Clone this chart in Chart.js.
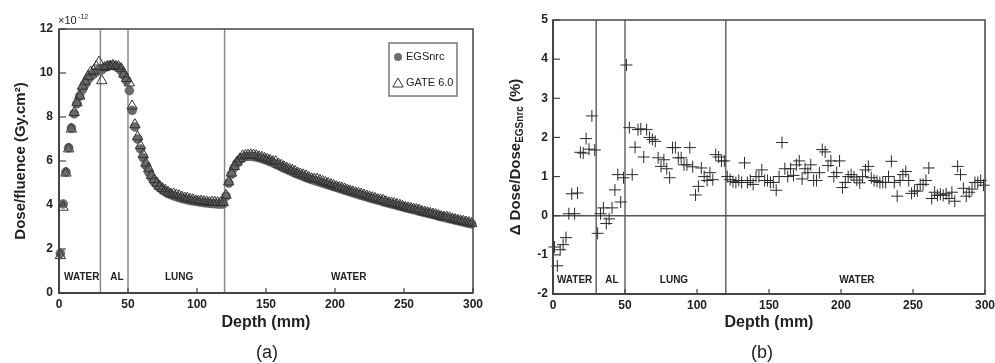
<!DOCTYPE html>
<html>
<head>
<meta charset="utf-8">
<script src="https://cdn.jsdelivr.net/npm/chart.js@4.4.1/dist/chart.umd.min.js"></script>
<style>
  body { margin: 0; background: #fff; width: 995px; height: 363px; position: relative; overflow: hidden; font-family: "Liberation Sans", Arial, sans-serif; }
  canvas { position: absolute; top: 0; }
  #chartA { left: 0; }
  #chartB { left: 495px; }
  .cap { position: absolute; top: 342px; font-size: 18px; line-height: 21px; color: #222; transform: translateX(-50%); }
</style>
</head>
<body>
<canvas id="chartA" width="495" height="363"></canvas>
<canvas id="chartB" width="500" height="363"></canvas>
<div class="cap" style="left:267px">(a)</div>
<div class="cap" style="left:762px">(b)</div>
<script>
// depth of each bin (mm)
const depth = [
  1, 3, 5, 7, 9, 11, 13, 15, 17, 19,
  21, 23, 25, 27, 29, 31, 33, 35, 37, 39,
  41, 43, 45, 47, 49, 51, 53, 55, 57, 59,
  61, 63, 65, 67, 69, 71, 73, 75, 77, 79,
  81, 83, 85, 87, 89, 91, 93, 95, 97, 99,
  101, 103, 105, 107, 109, 111, 113, 115, 117, 119,
  121, 123, 125, 127, 129, 131, 133, 135, 137, 139,
  141, 143, 145, 147, 149, 151, 153, 155, 157, 159,
  161, 163, 165, 167, 169, 171, 173, 175, 177, 179,
  181, 183, 185, 187, 189, 191, 193, 195, 197, 199,
  201, 203, 205, 207, 209, 211, 213, 215, 217, 219,
  221, 223, 225, 227, 229, 231, 233, 235, 237, 239,
  241, 243, 245, 247, 249, 251, 253, 255, 257, 259,
  261, 263, 265, 267, 269, 271, 273, 275, 277, 279,
  281, 283, 285, 287, 289, 291, 293, 295, 297, 299
];

// Dose/fluence (x1e-12 Gy.cm2)
const doseEgs = [
  1.8, 4.05, 5.5, 6.6, 7.5, 8.15, 8.6, 8.95, 9.25, 9.5,
  9.7, 9.85, 9.95, 10.05, 10.15, 10.15, 10.25, 10.3, 10.35, 10.35,
  10.3, 10.25, 10.1, 9.9, 9.65, 9.2, 8.3, 7.55, 7.0, 6.55,
  6.15, 5.8, 5.5, 5.25, 5.05, 4.9, 4.78, 4.68, 4.6, 4.53,
  4.47, 4.42, 4.38, 4.34, 4.3, 4.27, 4.24, 4.21, 4.19, 4.17,
  4.15, 4.13, 4.11, 4.1, 4.08, 4.07, 4.06, 4.05, 4.04, 4.05,
  4.4, 5.0, 5.4, 5.7, 5.9, 6.05, 6.15, 6.2, 6.22, 6.22,
  6.2, 6.18, 6.15, 6.11, 6.07, 6.02, 5.97, 5.92, 5.86, 5.8,
  5.74, 5.68, 5.62, 5.57, 5.51, 5.45, 5.4, 5.35, 5.3, 5.25,
  5.2, 5.16, 5.12, 5.08, 5.04, 5.0, 4.96, 4.92, 4.88, 4.84,
  4.8, 4.76, 4.72, 4.68, 4.64, 4.6, 4.56, 4.52, 4.48, 4.44,
  4.41, 4.37, 4.33, 4.29, 4.26, 4.22, 4.19, 4.15, 4.12, 4.08,
  4.05, 4.02, 3.98, 3.95, 3.92, 3.88, 3.85, 3.82, 3.79, 3.76,
  3.72, 3.69, 3.66, 3.63, 3.6, 3.57, 3.54, 3.5, 3.47, 3.44,
  3.41, 3.38, 3.35, 3.32, 3.29, 3.26, 3.23, 3.2, 3.17, 3.14
];

const doseGate = [
  1.7, 3.9, 5.45, 6.55, 7.45, 8.2, 8.65, 8.95, 9.4, 9.6,
  9.85, 10.05, 10.1, 10.3, 10.5, 9.65, 10.25, 10.3, 10.3, 10.35,
  10.3, 10.3, 10.2, 9.95, 9.75, 9.55, 8.5, 7.65, 7.1, 6.7,
  6.3, 5.9, 5.65, 5.35, 5.15, 5.0, 4.85, 4.75, 4.67, 4.58,
  4.5, 4.5, 4.45, 4.42, 4.36, 4.32, 4.31, 4.26, 4.24, 4.19,
  4.18, 4.18, 4.15, 4.14, 4.11, 4.13, 4.12, 4.11, 4.1, 4.11,
  4.44, 5.05, 5.45, 5.75, 5.95, 6.1, 6.23, 6.25, 6.27, 6.28,
  6.27, 6.24, 6.19, 6.17, 6.12, 6.08, 6.03, 5.97, 5.97, 5.86,
  5.81, 5.74, 5.68, 5.63, 5.58, 5.53, 5.45, 5.41, 5.37, 5.32,
  5.25, 5.2, 5.18, 5.17, 5.12, 5.07, 5.02, 4.98, 4.93, 4.9,
  4.83, 4.8, 4.77, 4.73, 4.68, 4.64, 4.6, 4.56, 4.53, 4.5,
  4.45, 4.41, 4.37, 4.33, 4.3, 4.25, 4.23, 4.21, 4.15, 4.1,
  4.09, 4.06, 4.03, 3.99, 3.94, 3.9, 3.87, 3.85, 3.82, 3.79,
  3.77, 3.71, 3.68, 3.65, 3.62, 3.59, 3.56, 3.52, 3.48, 3.45,
  3.45, 3.42, 3.37, 3.34, 3.31, 3.28, 3.26, 3.23, 3.2, 3.16
];

// Δ Dose / Dose_EGSnrc (%)
const deltaDose = [
  -0.8, -1.28, -0.87, -0.74, -0.56, 0.05, 0.56, 0.05, 0.58, 1.62,
  1.6, 1.97, 1.7, 2.55, 1.68, -0.45, 0.05, 0.2, -0.2, -0.08,
  0.2, 0.66, 1.05, 0.35, 0.97, 3.85, 2.25, 1.05, 1.75, 2.2,
  2.22, 1.5, 2.2, 2.0, 1.95, 1.9, 1.48, 1.26, 1.43, 1.2,
  0.97, 1.74, 1.74, 1.48, 1.48, 1.3, 1.3, 1.74, 1.25, 0.53,
  0.75, 1.22, 1.0, 0.9, 1.1, 0.92, 1.56, 1.5, 1.4, 1.4,
  1.0, 0.92, 0.87, 0.85, 0.9, 0.85, 1.35, 0.85, 0.9, 0.8,
  1.0, 1.0, 1.17, 0.9, 0.9, 0.85, 0.85, 0.65, 1.0, 1.87,
  1.2, 1.0, 1.2, 1.03, 1.3, 1.4, 0.94, 1.2, 1.1, 1.3,
  0.9, 0.9, 1.1, 1.69, 1.63, 1.28, 1.4, 1.0, 1.1, 1.4,
  0.72, 0.85, 1.0, 1.05, 0.99, 0.91, 0.84, 1.0, 1.17, 1.26,
  0.97, 0.9, 0.88, 0.85, 0.85, 0.85, 1.0, 1.39, 0.85, 0.5,
  0.9, 1.05, 1.13, 0.9, 0.57, 0.63, 0.63, 0.8, 0.8, 0.9,
  1.22, 0.44, 0.6, 0.52, 0.55, 0.52, 0.56, 0.44, 0.6, 0.37,
  1.26, 1.05, 0.7, 0.5, 0.6, 0.68, 0.85, 0.85, 0.9, 0.78
];

const boundaries = [30, 50, 120];
const regionNames = ['WATER', 'AL', 'LUNG', 'WATER'];
const regionPosA = [16.5, 42, 87, 210];
const regionPosB = [15, 41, 84, 211];
const legendNames = ['EGSnrc', 'GATE 6.0'];

const FONT = '"Liberation Sans", Arial, sans-serif';
const toXY = (ys) => depth.map((d, i) => ({ x: d, y: ys[i] }));

// lines between materials, material names, frame and inward ticks
const makeDecor = (cfg) => ({
  id: 'decor',
  beforeDatasetsDraw(chart) {
    const { ctx, chartArea: a, scales: { x, y } } = chart;
    ctx.save();
    ctx.strokeStyle = cfg.lineColor;
    ctx.lineWidth = 1.5;
    boundaries.forEach(b => {
      const px = x.getPixelForValue(b);
      ctx.beginPath(); ctx.moveTo(px, a.top); ctx.lineTo(px, a.bottom); ctx.stroke();
    });
    if (cfg.zeroLine) {
      const py = y.getPixelForValue(0);
      ctx.strokeStyle = '#555';
      ctx.beginPath(); ctx.moveTo(a.left, py); ctx.lineTo(a.right, py); ctx.stroke();
    }
    ctx.fillStyle = '#222';
    ctx.font = 'bold 10px ' + FONT;
    ctx.textAlign = 'center';
    ctx.textBaseline = 'middle';
    regionNames.forEach((n, i) => ctx.fillText(n, x.getPixelForValue(cfg.regionPos[i]), a.bottom - cfg.labelOffset));
    ctx.restore();
  },
  afterDatasetsDraw(chart) {
    const { ctx, chartArea: a, scales: { x, y } } = chart;
    ctx.save();
    ctx.strokeStyle = '#444';
    ctx.lineWidth = 1.5;
    ctx.strokeRect(a.left, a.top, a.right - a.left, a.bottom - a.top);
    ctx.lineWidth = 2;
    ctx.beginPath();
    ctx.moveTo(a.left, a.top); ctx.lineTo(a.left, a.bottom); ctx.lineTo(a.right, a.bottom);
    ctx.stroke();
    ctx.lineWidth = 1.2;
    y.ticks.forEach(t => {
      const py = y.getPixelForValue(t.value);
      ctx.beginPath(); ctx.moveTo(a.left, py); ctx.lineTo(a.left + 7, py); ctx.stroke();
    });
    x.ticks.forEach(t => {
      const px = x.getPixelForValue(t.value);
      ctx.beginPath(); ctx.moveTo(px, a.bottom); ctx.lineTo(px, a.bottom - 5); ctx.stroke();
    });
    ctx.restore();
  }
});

// legend box and the x10^-12 factor of chart (a)
const extrasA = {
  id: 'extrasA',
  afterDraw(chart) {
    const { ctx, chartArea: a } = chart;
    ctx.save();
    ctx.fillStyle = '#222';
    ctx.textBaseline = 'alphabetic';
    ctx.textAlign = 'left';
    ctx.font = '11px ' + FONT;
    ctx.fillText('×10', a.left - 1, a.top - 5);
    ctx.font = '7px ' + FONT;
    ctx.fillText('-12', a.left + 19, a.top - 10);

    ctx.strokeStyle = '#777';
    ctx.lineWidth = 1.5;
    ctx.strokeRect(389, 43, 68, 53);
    ctx.fillStyle = '#6e6e6e';
    Chart.helpers.drawPoint(ctx, { pointStyle: 'circle', radius: 4, borderWidth: 0, rotation: 0 }, 398, 57);
    ctx.fillStyle = 'rgba(0,0,0,0)';
    ctx.strokeStyle = '#333';
    ctx.lineWidth = 1;
    Chart.helpers.drawPoint(ctx, { pointStyle: 'triangle', radius: 6, borderWidth: 1, rotation: 0 }, 398, 84);
    ctx.fillStyle = '#222';
    ctx.font = '11px ' + FONT;
    ctx.textBaseline = 'middle';
    ctx.fillText(legendNames[0], 406, 57);
    ctx.fillText(legendNames[1], 406, 83);
    ctx.restore();
  }
};

// y title of chart (b) with a subscript
const yTitleB = {
  id: 'yTitleB',
  afterDraw(chart) {
    const { ctx, chartArea: a } = chart;
    const parts = [
      { t: 'Δ Dose/Dose', f: 'bold 15px ' + FONT, dy: 0 },
      { t: 'EGSnrc', f: 'bold 10px ' + FONT, dy: 4 },
      { t: ' (%)', f: 'bold 15px ' + FONT, dy: 0 }
    ];
    ctx.save();
    ctx.translate(21, (a.top + a.bottom) / 2);
    ctx.rotate(-Math.PI / 2);
    ctx.fillStyle = '#222';
    ctx.textBaseline = 'middle';
    ctx.textAlign = 'left';
    let total = 0;
    parts.forEach(p => { ctx.font = p.f; p.w = ctx.measureText(p.t).width; total += p.w; });
    let cx = -total / 2;
    parts.forEach(p => { ctx.font = p.f; ctx.fillText(p.t, cx, p.dy); cx += p.w; });
    ctx.restore();
  }
};

const xAxis = (height) => ({
  type: 'linear',
  min: 0, max: 300,
  grid: { display: false, drawTicks: false },
  border: { display: false },
  ticks: { stepSize: 50, padding: 4, color: '#222', font: { family: FONT, size: 12, weight: 'bold' } },
  title: { display: true, text: 'Depth (mm)', color: '#222', font: { family: FONT, size: 16, weight: 'bold' }, padding: { top: 0, bottom: 31 } },
  afterFit: (s) => { s.height = height; s.paddingLeft = 0; s.paddingRight = 0; }
});

const drawDoseChart = () => {
  const ctx = document.getElementById('chartA').getContext('2d');
  new Chart(ctx, {
    type: 'scatter',
    data: {
      datasets: [{
        label: legendNames[0],
        data: toXY(doseEgs),
        pointStyle: 'circle',
        pointRadius: 4.5,
        backgroundColor: '#6a6a6a',
        borderColor: '#555',
        borderWidth: 0.5,
        clip: false,
        order: 1
      }, {
        label: legendNames[1],
        data: toXY(doseGate),
        pointStyle: 'triangle',
        pointRadius: 6,
        backgroundColor: 'rgba(0,0,0,0)',
        borderColor: '#333',
        borderWidth: 1,
        clip: false,
        order: 0
      }]
    },
    options: {
      responsive: false,
      animation: false,
      devicePixelRatio: 1,
      layout: { padding: { top: 29, right: 22, left: 0, bottom: 0 } },
      plugins: { legend: { display: false }, tooltip: { enabled: false } },
      scales: {
        x: xAxis(70),
        y: {
          min: 0, max: 12,
          grid: { display: false, drawTicks: false },
          border: { display: false },
          ticks: { stepSize: 2, padding: 6, color: '#222', font: { family: FONT, size: 12, weight: 'bold' } },
          title: { display: true, text: 'Dose/fluence (Gy.cm²)', color: '#222', font: { family: FONT, size: 15, weight: 'bold' }, padding: { top: 12, bottom: 0 } },
          afterFit: (s) => { s.width = 59; }
        }
      }
    },
    plugins: [makeDecor({ lineColor: '#8a8a8a', regionPos: regionPosA, labelOffset: 16, zeroLine: false }), extrasA]
  });
};

const drawDeltaChart = () => {
  const ctx = document.getElementById('chartB').getContext('2d');
  new Chart(ctx, {
    type: 'scatter',
    data: {
      datasets: [{
        label: 'Δ Dose',
        data: toXY(deltaDose),
        pointStyle: 'cross',
        pointRadius: 6,
        borderColor: '#2a2a2a',
        borderWidth: 1,
        clip: false
      }]
    },
    options: {
      responsive: false,
      animation: false,
      devicePixelRatio: 1,
      layout: { padding: { top: 20, right: 10, left: 0, bottom: 0 } },
      plugins: { legend: { display: false }, tooltip: { enabled: false } },
      scales: {
        x: xAxis(69),
        y: {
          min: -2, max: 5,
          grid: { display: false, drawTicks: false },
          border: { display: false },
          ticks: { stepSize: 1, padding: 5, color: '#222', font: { family: FONT, size: 12, weight: 'bold' } },
          afterFit: (s) => { s.width = 58; }
        }
      }
    },
    plugins: [makeDecor({ lineColor: '#666', regionPos: regionPosB, labelOffset: 14, zeroLine: true }), yTitleB]
  });
};

drawDoseChart();
drawDeltaChart();
</script>
</body>
</html>
